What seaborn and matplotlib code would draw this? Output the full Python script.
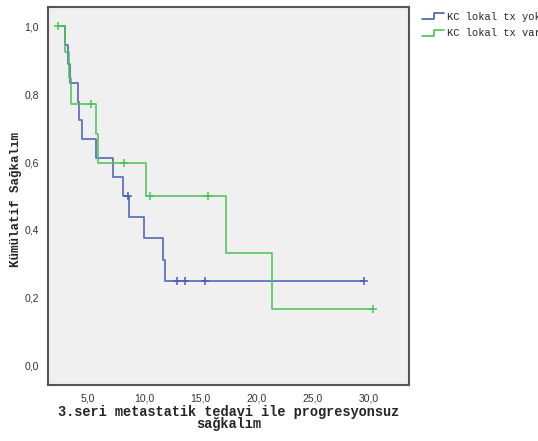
import numpy as np
import pandas as pd
import matplotlib
matplotlib.use('Agg')
import matplotlib.pyplot as plt
import seaborn as sns
from matplotlib.lines import Line2D
from matplotlib.legend_handler import HandlerBase

# Süreler (ay) ve olay bayrağı: 1 = progresyon, 0 = sansürlü
grup_adlari = ['KC lokal tx yok', 'KC lokal tx var']
renkler = ['#4a5db3', '#4cc257']

sure_yok = [2.92, 3.17, 3.37, 4.06, 4.20, 4.41, 5.66, 7.23, 8.07, 8.57,
            8.63, 10.0, 11.63, 11.81, 12.88, 13.62, 15.43, 29.6]
olay_yok = [1, 1, 1, 1, 1, 1, 1, 1, 1, 0,
            1, 1, 1, 1, 0, 0, 0, 0]

sure_var = [2.33, 2.94, 3.28, 3.43, 5.22, 5.66, 5.84, 8.18, 10.15, 10.5,
            15.7, 17.28, 21.35, 30.36]
olay_var = [0, 1, 1, 1, 0, 1, 1, 0, 1, 0,
            0, 1, 1, 0]

y_ticks = [0.0, 0.2, 0.4, 0.6, 0.8, 1.0]
x_ticks = [5.0, 10.0, 15.0, 20.0, 25.0, 30.0]


def kaplan_meier(sure, olay, baslangic):
    df = pd.DataFrame({'t': sure, 'e': olay}).sort_values('t').reset_index(drop=True)
    risk = len(df)
    s = 1.0
    adim = [(baslangic, 1.0)]
    sansur = []
    for _, r in df.iterrows():
        if r['e'] == 1:
            s = s * (risk - 1) / risk
            adim.append((r['t'], s))
        else:
            sansur.append((r['t'], s))
        risk -= 1
    son = df['t'].max()
    if adim[-1][0] < son:
        adim.append((son, s))
    return pd.DataFrame(adim, columns=['t', 's']), pd.DataFrame(sansur, columns=['t', 's'])


baslangic = min(min(sure_yok), min(sure_var))
adim_yok, sansur_yok = kaplan_meier(sure_yok, olay_yok, baslangic)
adim_var, sansur_var = kaplan_meier(sure_var, olay_var, baslangic)

sns.set_style('white')
plt.rcParams['font.family'] = ['Liberation Sans', 'DejaVu Sans']

fig = plt.figure(figsize=(5.38, 4.41), dpi=100)
ax = fig.add_axes([48 / 538, 1 - 385 / 441, (409 - 48) / 538, (385 - 7) / 441])
ax.set_facecolor('#f0f0f0')

for adim, sansur, renk in [(adim_yok, sansur_yok, renkler[0]), (adim_var, sansur_var, renkler[1])]:
    sns.lineplot(data=adim, x='t', y='s', drawstyle='steps-post', estimator=None,
                 color=renk, lw=1.3, alpha=0.85, ax=ax, legend=False)
    sns.scatterplot(data=sansur, x='t', y='s', marker='+', s=40, color=renk,
                    linewidth=1.1, ax=ax, legend=False, zorder=3)

ax.set_xlim(1.41, 33.6)
ax.set_ylim(-0.056, 1.056)
ax.set_xticks(x_ticks)
ax.set_yticks(y_ticks)
ax.set_xticklabels([f'{v:.1f}'.replace('.', ',') for v in x_ticks], fontsize=7.5, color='#333333')
ax.set_yticklabels([f'{v:.1f}'.replace('.', ',') for v in y_ticks], fontsize=7.5, color='#333333')
ax.tick_params(direction='out', length=5, width=1.3, color='#444444')
ax.tick_params(axis='y', pad=1.5)
ax.tick_params(axis='x', pad=1)
for sp in ax.spines.values():
    sp.set_color('#555555')
    sp.set_linewidth(1.5)

ax.set_xlabel('3.seri metastatik tedavi ile progresyonsuz\nsağkalım',
              family='Liberation Mono', fontweight='bold', fontsize=9.8,
              linespacing=0.8)
ax.xaxis.set_label_coords(0.5, -0.053)
ax.set_ylabel('Kümülatif Sağkalım', family='Liberation Mono', fontweight='bold',
              fontsize=9)
ax.yaxis.set_label_coords(-0.088, 0.49)
ax.yaxis.label.set_va('center')


class StepHandler(HandlerBase):
    def create_artists(self, legend, orig_handle, xdescent, ydescent, width, height, fontsize, trans):
        xs = np.array([0, width * 0.55, width * 0.55, width]) - xdescent
        ys = np.array([height * 0.1, height * 0.1, height * 0.9, height * 0.9]) - ydescent
        ln = Line2D(xs, ys, color=orig_handle.get_color(), lw=1.2)
        ln.set_transform(trans)
        return [ln]


handles = [Line2D([], [], color=c) for c in renkler]
fig.legend(handles, grup_adlari, loc='upper left', bbox_to_anchor=(422 / 538, 1 - 12 / 441),
           frameon=False, handler_map={Line2D: StepHandler()},
           prop={'family': 'Liberation Mono', 'size': 7.5},
           handlelength=2.1, handletextpad=0.3, labelspacing=0.6, borderaxespad=0, borderpad=0)

fig.savefig('out.png', dpi=100)
